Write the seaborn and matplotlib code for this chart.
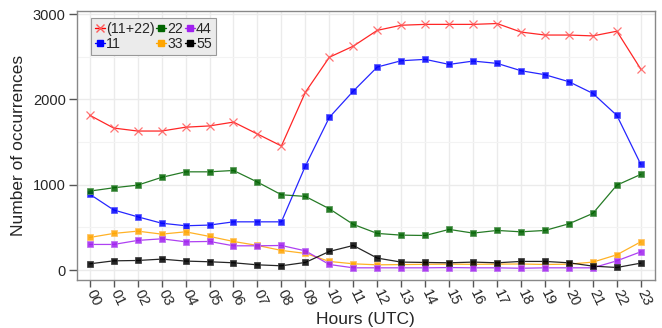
import numpy as np
import pandas as pd
import matplotlib
matplotlib.use("Agg")
import matplotlib.pyplot as plt
from matplotlib.lines import Line2D
from matplotlib.ticker import MultipleLocator
import seaborn as sns

hours = ["00", "01", "02", "03", "04", "05", "06", "07", "08", "09", "10", "11",
         "12", "13", "14", "15", "16", "17", "18", "19", "20", "21", "22", "23"]

s11_22 = [1815, 1665, 1630, 1630, 1675, 1690, 1735, 1595, 1455, 2085, 2495, 2625,
          2810, 2870, 2880, 2880, 2880, 2890, 2790, 2755, 2755, 2745, 2800, 2355]
s11 = [890, 705, 625, 550, 520, 528, 566, 566, 566, 1220, 1790, 2098,
       2380, 2454, 2470, 2411, 2450, 2423, 2337, 2290, 2208, 2071, 1813, 1239]
s22 = [926, 965, 996, 1087, 1152, 1152, 1168, 1032, 883, 864, 719, 536,
       430, 410, 406, 477, 434, 465, 449, 465, 543, 665, 996, 1122]
s33 = [383, 430, 457, 422, 449, 395, 336, 289, 231, 196, 102, 74,
       62, 65, 68, 70, 68, 70, 72, 66, 70, 94, 180, 332]
s44 = [301, 301, 348, 367, 332, 336, 285, 285, 289, 226, 66, 27,
       27, 27, 27, 30, 27, 27, 22, 27, 27, 27, 109, 215]
s55 = [74, 109, 113, 129, 106, 98, 86, 62, 51, 90, 219, 289,
       141, 94, 90, 86, 94, 86, 102, 102, 86, 47, 31, 82]

series = {"(11+22)": s11_22, "11": s11, "22": s22, "33": s33, "44": s44, "55": s55}
colors = {"(11+22)": "#ff0000", "11": "#0000ff", "22": "#006400",
          "33": "#ffa500", "44": "#a020f0", "55": "#000000"}
edges = {"(11+22)": "#ff5a5a", "11": "#5c5cff", "22": "#5a9a5a",
         "33": "#ffc466", "44": "#c074f2", "55": "#444444"}

rows = []
for name, vals in series.items():
    for i, v in enumerate(vals):
        rows.append({"hour": i, "count": v, "series": name})
df = pd.DataFrame(rows)

sns.set_theme(style="white")
plt.rcParams["font.family"] = ["Liberation Sans", "DejaVu Sans"]

fig = plt.figure(figsize=(6.62, 3.28), dpi=100)
ax = fig.add_axes([0.116, 0.146, 0.873, 0.820])

ax.set_axisbelow(True)
ax.yaxis.set_major_locator(MultipleLocator(1000))
ax.yaxis.set_minor_locator(MultipleLocator(500))
ax.grid(True, which="major", color="#ebebeb", linewidth=1.0)
ax.grid(True, which="minor", axis="y", color="#f3f3f3", linewidth=0.8)

order = ["(11+22)", "11", "22", "33", "44", "55"]
for name in order:
    sub = df[df["series"] == name]
    if name == "(11+22)":
        sns.lineplot(data=sub, x="hour", y="count", ax=ax, color=colors[name],
                     linewidth=0.9, marker="x", markersize=6,
                     markeredgewidth=0.9, markeredgecolor=edges[name],
                     legend=False, zorder=3)
    else:
        sns.lineplot(data=sub, x="hour", y="count", ax=ax, color=colors[name],
                     linewidth=0.9, marker="s", markersize=5,
                     markeredgewidth=0.7, markeredgecolor=edges[name],
                     markerfacecolor=colors[name], legend=False, zorder=3)

for line in ax.get_lines():
    line.set_alpha(0.85)

ax.set_xlim(-0.54, 23.58)
ax.set_ylim(-117, 3035)
ax.set_xticks(range(len(hours)))
ax.set_xticklabels(hours, rotation=-65, ha="left", va="center",
                   rotation_mode="anchor", fontsize=10.5)
ax.tick_params(axis="y", labelsize=10.5, length=6, width=1, color="#555555",
               direction="out", left=True, pad=2)
ax.tick_params(axis="x", length=5, width=1, color="#555555",
               direction="out", bottom=True, pad=2)
ax.tick_params(axis="y", which="minor", left=False)

for sp in ax.spines.values():
    sp.set_color("#888888")
    sp.set_linewidth(1.0)

ax.set_xlabel("Hours (UTC)", fontsize=12.5, labelpad=3)
ax.set_ylabel("Number of occurrences", fontsize=12.5, labelpad=5)

handles = []
for name in order:
    mk = "x" if name == "(11+22)" else "s"
    handles.append(Line2D([0], [0], color=colors[name], marker=mk,
                          markersize=5 if mk == "s" else 6,
                          linewidth=1.0, markerfacecolor=colors[name],
                          markeredgecolor=colors[name] if mk == "s" else edges[name]))
leg = ax.legend(handles, order, ncol=3, loc="upper left", fontsize=10.2,
                handlelength=0.7, handletextpad=0.1, columnspacing=0.1,
                labelspacing=0.05, borderpad=0.3, borderaxespad=0.0,
                frameon=True, fancybox=False, bbox_to_anchor=(0.024, 0.975))
leg.get_frame().set_facecolor("#ebebeb")
leg.get_frame().set_edgecolor("#999999")
leg.get_frame().set_linewidth(0.8)
leg.get_frame().set_alpha(1.0)

fig.savefig("out.png", dpi=100)
